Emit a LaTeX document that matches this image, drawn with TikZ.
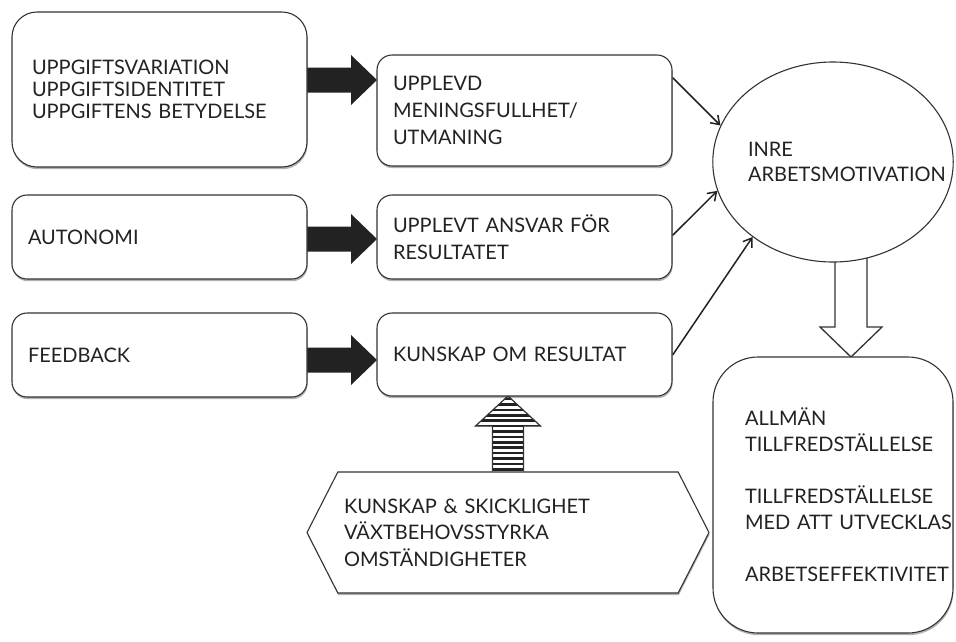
\documentclass[tikz,border=0pt]{standalone}
\usepackage{fontspec}
\setmainfont{Lato}
\usetikzlibrary{shapes.geometric,shapes.symbols,calc,backgrounds,shadows,arrows.meta}

\definecolor{ink}{HTML}{222222}
\definecolor{edge}{HTML}{333333}

% solid block arrow between two boxes, centred on height #3
\newcommand\fatarrow[3]{%
  \fill[ink]
    ($(#1.east |- 0,#3)+(-2,-12.5)$) --
    ($(#2.west |- 0,#3)+(-26,-12.5)$) --
    ($(#2.west |- 0,#3)+(-26,-25)$) --
    (#2.west |- 0,#3) --
    ($(#2.west |- 0,#3)+(-26,25)$) --
    ($(#2.west |- 0,#3)+(-26,12.5)$) --
    ($(#1.east |- 0,#3)+(-2,12.5)$) -- cycle;}

\begin{document}
\begin{tikzpicture}[x=1pt,y=-1pt,
  txt/.style={font=\fontsize{20}{26}\selectfont, text=ink},
  card/.style={txt, draw=edge, line width=1.1pt, fill=white, anchor=north west,
    align=left, outer sep=0pt, inner ysep=0pt,
    drop shadow={shadow xshift=0.6pt, shadow yshift=-2.2pt, opacity=0.3, fill=black}},
  thin/.style={draw=ink, line width=1.5pt, line cap=round,
    -{Straight Barb[length=8pt,width=11pt,line width=1.5pt]}},
  hollow/.style={draw=edge, line width=1.3pt, fill=white, line join=miter},
]
\useasboundingbox (0,0) rectangle (956,641);

% --- left column: job characteristics
\node[card, rounded corners=25pt, minimum width=295, minimum height=155,
      inner xsep=20pt, text width=255pt,
      font=\fontsize{20}{21.7}\selectfont] (A1) at (12,12)
  {UPPGIFTSVARIATION\\UPPGIFTSIDENTITET\\UPPGIFTENS BETYDELSE};
\node[card, rounded corners=15pt, minimum width=295, minimum height=84,
      inner xsep=16pt, text width=263pt] (A2) at (12,195) {AUTONOMI};
\node[card, rounded corners=15pt, minimum width=295, minimum height=84,
      inner xsep=16pt, text width=263pt] (A3) at (12,313) {FEEDBACK};

% --- middle column: psychological states
\node[card, rounded corners=15pt, minimum width=295, minimum height=111,
      inner xsep=16pt, text width=263pt,
      font=\fontsize{20}{27}\selectfont] (B1) at (377,55)
  {UPPLEVD\\MENINGSFULLHET/\\UTMANING};
\node[card, rounded corners=15pt, minimum width=295, minimum height=84,
      inner xsep=16pt, text width=263pt,
      font=\fontsize{20}{27}\selectfont] (B2) at (377,195)
  {UPPLEVT ANSVAR FÖR\\RESULTATET};
\node[card, rounded corners=15pt, minimum width=295, minimum height=83,
      inner xsep=16pt, text width=263pt] (B3) at (377,313)
  {KUNSKAP OM RESULTAT};

% --- outcome ellipse
\node[txt, ellipse, draw=edge, line width=1.1pt, fill=white,
      minimum width=240, minimum height=200, inner sep=0pt,
      text width=170pt, align=left, font=\fontsize{20}{25}\selectfont]
  (E) at (833,162) {INRE\\\mbox{ARBETSMOTIVATION}};

% --- results box
\node[card, rounded corners=45pt, minimum width=240, minimum height=276,
      inner xsep=32pt, text width=176pt] (R) at (713,357)
  {ALLMÄN\\TILLFREDSTÄLLELSE\\[26pt]TILLFREDSTÄLLELSE\\\mbox{MED ATT UTVECKLAS}\\[26pt]\mbox{ARBETSEFFEKTIVITET}};

% --- moderators
\node[txt, signal, signal to=west and east, signal pointer angle=126,
      draw=edge, line width=1.1pt, fill=white, minimum width=402, minimum height=121,
      inner sep=0pt, text width=328pt, align=left,
      font=\fontsize{20}{26.5}\selectfont,
      drop shadow={shadow xshift=0.6pt, shadow yshift=-2.2pt, opacity=0.3, fill=black}]
  (H) at (508,532.5)
  {KUNSKAP \& SKICKLIGHET\\VÄXTBEHOVSSTYRKA\\OMSTÄNDIGHETER};

\begin{scope}[on background layer]
  % solid arrows: characteristics -> states
  \fatarrow{A1}{B1}{80}
  \fatarrow{A2}{B2}{239}
  \fatarrow{A3}{B3}{360}

  % hollow arrow: motivation -> results
  \coordinate (rt) at ($(R.north)+(18,0)$);
  \draw[hollow] ($(rt)+(-16,-104)$) -- ($(rt)+(-16,-30)$) -- ($(rt)+(-31,-30)$)
    -- (rt) -- ($(rt)+(31,-30)$) -- ($(rt)+(16,-30)$) -- ($(rt)+(16,-104)$);

  % striped arrow: moderators -> knowledge of results
  \coordinate (st) at (H.north |- B3.south);
  \coordinate (sb) at (H.north);
  \begin{scope}
    \clip ($(sb)+(-15.5,0)$) -- ($(st)+(-15.5,30)$) -- ($(st)+(-32.5,30)$) -- (st)
      -- ($(st)+(32.5,30)$) -- ($(st)+(15.5,30)$) -- ($(sb)+(15.5,0)$) -- cycle;
    \fill[white] ($(st)+(-40,0)$) rectangle ($(sb)+(40,0)$);
    \foreach \k in {0,...,14}
      \draw[ink, line width=2.6pt] ($(st)+(-40,3+5.4*\k)$) -- ($(st)+(40,3+5.4*\k)$);
  \end{scope}
  \draw[edge, line width=1.2pt, line join=miter]
    ($(sb)+(-15.5,0)$) -- ($(st)+(-15.5,30)$) -- ($(st)+(-32.5,30)$) -- (st)
      -- ($(st)+(32.5,30)$) -- ($(st)+(15.5,30)$) -- ($(sb)+(15.5,0)$);
\end{scope}

% thin arrows: states -> motivation
\draw[thin] ($(B1.north east)+(1,23)$) -- (E.162);
\draw[thin] ($(B2.east)+(1,-2)$) -- (E.194);
\draw[thin] ($(B3.east)+(1,0)$) -- (E.223);

\end{tikzpicture}
\end{document}
